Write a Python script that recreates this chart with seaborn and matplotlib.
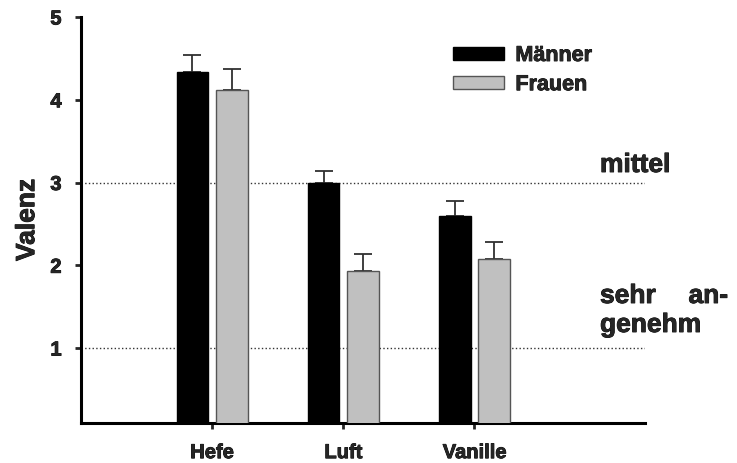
import matplotlib
matplotlib.use("Agg")
import matplotlib.pyplot as plt
import matplotlib.patheffects as pe
import seaborn as sns
import pandas as pd
import numpy as np
from matplotlib.font_manager import FontProperties
from matplotlib.patches import Patch

categories = ["Hefe", "Luft", "Vanille"]
groups = ["Männer", "Frauen"]
maenner = [4.33, 3.00, 2.60]
frauen = [4.12, 1.93, 2.07]
sem_maenner = [0.21, 0.14, 0.18]
sem_frauen = [0.25, 0.21, 0.21]
ref_levels = [3, 1]
yticks = [1, 2, 3, 4, 5]

sns.set_style("white")
plt.rcParams["font.family"] = ["Liberation Sans", "DejaVu Sans"]
plt.rcParams["font.weight"] = "bold"

heavy = [pe.withStroke(linewidth=0.6, foreground="black")]

def fp(size):
    return FontProperties(family=["Liberation Sans", "DejaVu Sans"], weight="bold", size=size)

df = pd.DataFrame({
    "Kategorie": categories * 2,
    "Gruppe": [groups[0]] * 3 + [groups[1]] * 3,
    "Valenz": maenner + frauen,
})

fig = plt.figure(figsize=(7.37, 4.63), dpi=100)
ax = fig.add_axes([81 / 737, 1 - 423 / 463, (645 - 81) / 737, (423 - 17) / 463])

sns.barplot(data=df, x="Kategorie", y="Valenz", hue="Gruppe", order=categories,
            hue_order=groups, palette=["#000000", "#c0c0c0"], width=0.6, gap=0.2,
            errorbar=None, ax=ax, legend=False, zorder=3)

edgecols = ["#000000", "#555555"]
sems = [sem_maenner, sem_frauen]
for cont, ec, sem in zip(ax.containers, edgecols, sems):
    xs, hs = [], []
    for p in cont.patches:
        p.set_edgecolor(ec)
        p.set_linewidth(1.0)
        xs.append(p.get_x() + p.get_width() / 2)
        hs.append(p.get_height())
    ax.errorbar(xs, hs, yerr=[np.zeros(len(sem)), sem], fmt="none",
                ecolor="#303030", elinewidth=1.3, capsize=6.5, capthick=1.3, zorder=2)

for lvl in ref_levels:
    ax.axhline(lvl, color="#333333", linestyle=":", linewidth=1.0, zorder=1)

texts = []
texts.append(fig.text(600 / 737, 1 - 172 / 463, "mittel", fontproperties=fp(19)))
texts.append(fig.text(600 / 737, 1 - 303 / 463, "sehr", fontproperties=fp(19)))
texts.append(fig.text(728 / 737, 1 - 303 / 463, "an-", fontproperties=fp(19), ha="right"))
texts.append(fig.text(600 / 737, 1 - 332 / 463, "genehm", fontproperties=fp(19)))

ax.set_ylim(0.094, 5)
ax.set_xlim(-1.0, 3.30)
ax.set_yticks(yticks)
ax.set_yticklabels([str(t) for t in yticks])
ax.set_xlabel("")
ax.set_ylabel("Valenz", fontproperties=fp(19), labelpad=8)
texts.append(ax.yaxis.label)

for s in ["top", "right"]:
    ax.spines[s].set_visible(False)
for s in ["left", "bottom"]:
    ax.spines[s].set_linewidth(2.2)
    ax.spines[s].set_color("black")

ax.tick_params(axis="y", direction="out", length=4, width=2, labelsize=14.5, pad=10, left=True)
ax.tick_params(axis="x", direction="out", length=4.5, width=2, labelsize=14.5, pad=10, bottom=True)
for lab in ax.get_xticklabels() + ax.get_yticklabels():
    lab.set_fontproperties(fp(14.5))
    texts.append(lab)

handles = [Patch(facecolor="#000000", edgecolor="#000000", linewidth=1.0),
           Patch(facecolor="#c0c0c0", edgecolor="#555555", linewidth=1.0)]
leg = ax.legend(handles, groups, loc="upper left", bbox_to_anchor=(453 / 737, 1 - 45 / 463),
                bbox_transform=fig.transFigure, frameon=False, prop=fp(15.5),
                handlelength=2.35, handleheight=0.55, handletextpad=0.55,
                labelspacing=0.38, borderpad=0, borderaxespad=0)
texts.extend(leg.get_texts())

for t in texts:
    t.set_path_effects(heavy)

fig.savefig("out.png", dpi=100)
